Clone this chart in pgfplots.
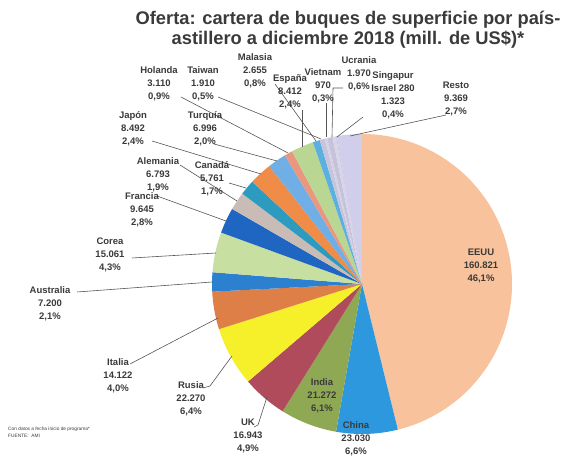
\documentclass[border=0pt]{standalone}
\usepackage{pgfplots}
\pgfplotsset{compat=1.18}
\usepackage{pgfplotstable}
\usepackage{fontspec}
\setmainfont{Liberation Sans}

\definecolor{cEEUU}{HTML}{F8C29C}
\definecolor{cChina}{HTML}{2E98DE}
\definecolor{cIndia}{HTML}{8FA853}
\definecolor{cUK}{HTML}{B04B5C}
\definecolor{cRusia}{HTML}{F6F02A}
\definecolor{cItalia}{HTML}{DF7F48}
\definecolor{cAustralia}{HTML}{2C80D0}
\definecolor{cCorea}{HTML}{C8DFA2}
\definecolor{cFrancia}{HTML}{1F66C2}
\definecolor{cAlemania}{HTML}{C9BCB6}
\definecolor{cCanada}{HTML}{2C9BBF}
\definecolor{cJapon}{HTML}{EE8C48}
\definecolor{cTurquia}{HTML}{70AEE6}
\definecolor{cHolanda}{HTML}{E9977F}
\definecolor{cEspana}{HTML}{BAD693}
\definecolor{cMalasia}{HTML}{5CB0E0}
\definecolor{cTaiwan}{HTML}{C8C4DC}
\definecolor{cVietnam}{HTML}{D6D2E6}
\definecolor{cUcrania}{HTML}{C6C2DA}
\definecolor{cSingapur}{HTML}{D8D5E8}
\definecolor{cIsrael}{HTML}{C4C0D8}
\definecolor{cResto}{HTML}{D1CEEC}
\definecolor{labtext}{HTML}{3A3A3A}
\definecolor{leader}{HTML}{555555}

% cartera por pais, mill. US$ (orden de los sectores, en sentido horario desde arriba)
\pgfplotstableread{
pais      valor    color
EEUU      160.821  cEEUU
China     23.030   cChina
India     21.272   cIndia
UK        16.943   cUK
Rusia     22.270   cRusia
Italia    14.122   cItalia
Australia 7.200    cAustralia
Corea     15.061   cCorea
Francia   9.645    cFrancia
Alemania  6.793    cAlemania
Canada    5.761    cCanada
Japon     8.492    cJapon
Turquia   6.996    cTurquia
Holanda   3.110    cHolanda
Espana    8.412    cEspana
Malasia   2.655    cMalasia
Taiwan    1.910    cTaiwan
Vietnam   0.970    cVietnam
Ucrania   1.970    cUcrania
Singapur  1.323    cSingapur
Israel    0.280    cIsrael
Resto     9.369    cResto
}\piedata

\tikzset{
  lbl/.style={font=\fontsize{9.5}{13}\selectfont\bfseries, align=center, text=labtext, inner sep=0pt},
  ld/.style={draw=leader, line width=0.6pt},
}

\begin{document}
\begin{tikzpicture}
\pgfplotstablegetrowsof{\piedata}
\pgfmathtruncatemacro\nlast{\pgfplotsretval-1}
\def\total{0}
\pgfplotsforeachungrouped \i in {0,...,\nlast}{%
  \pgfplotstablegetelem{\i}{valor}\of\piedata
  \pgfmathsetmacro\total{\total+\pgfplotsretval}}
\begin{axis}[
  hide axis, scale only axis, clip=false,
  x=1pt, y=1pt, y dir=reverse,
  xmin=0, xmax=566, ymin=0, ymax=455,
]
\path (axis cs:0,0) (axis cs:566,455);
% sectores
\def\angA{90}
\pgfplotsforeachungrouped \i in {0,...,\nlast}{%
  \pgfplotstablegetelem{\i}{valor}\of\piedata \let\val\pgfplotsretval
  \pgfplotstablegetelem{\i}{color}\of\piedata \let\col\pgfplotsretval
  \pgfmathsetmacro\angB{\angA-360*(\val/\total)}%
  \edef\slice{\noexpand\fill[\col] (axis cs:362,284) -- (axis cs:{362+150*cos(\angA)},{284-150*sin(\angA)}) arc[start angle=\angA, end angle=\angB, radius=150pt] -- cycle;}%
  \slice
  \let\angA\angB
}

% lineas guia
\draw[ld] (181,97) -- (288,153);
\draw[ld] (218,97) -- (321,139);
\draw[ld] (275,84) -- (316,141);
\draw[ld] (302,110) -- (302,147);
\draw[ld] (326,103) -- (326,137);
\draw[ld] (343,88) -- (333,88) -- (332,137);
\draw[ld] (363,117) -- (337,137);
\draw[ld] (446,115) -- (350,136);
\draw[ld] (152,141) -- (261,174);
\draw[ld] (214,144) -- (277,161);
\draw[ld] (180,165) -- (237,201);
\draw[ld] (229,183) -- (246,188);
\draw[ld] (157,196) -- (226,221);
\draw[ld] (132,258) -- (216,253);
\draw[ld] (77,292) -- (212,282);
\draw[ld] (130,364) -- (218,318);
\draw[ld] (203,388) -- (210,386) -- (232,356);
\draw[ld] (254,427) -- (258,425) -- (267,397);

% etiquetas
\node[lbl] at (axis cs:481,266) {EEUU\\160.821\\46,1\%};
\node[lbl] at (axis cs:356,439) {China\\23.030\\6,6\%};
\node[lbl] at (axis cs:322,396) {India\\21.272\\6,1\%};
\node[lbl] at (axis cs:248,436) {UK\\16.943\\4,9\%};
\node[lbl] at (axis cs:191,399) {Rusia\\22.270\\6,4\%};
\node[lbl] at (axis cs:118,376) {Italia\\14.122\\4,0\%};
\node[lbl] at (axis cs:50,304) {Australia\\7.200\\2,1\%};
\node[lbl] at (axis cs:110,255) {Corea\\15.061\\4,3\%};
\node[lbl] at (axis cs:142,210) {Francia\\9.645\\2,8\%};
\node[lbl] at (axis cs:158,175) {Alemania\\6.793\\1,9\%};
\node[lbl] at (axis cs:212,179) {Canadá\\5.761\\1,7\%};
\node[lbl] at (axis cs:133,129) {Japón\\8.492\\2,4\%};
\node[lbl] at (axis cs:205,129) {Turquía\\6.996\\2,0\%};
\node[lbl] at (axis cs:159,84) {Holanda\\3.110\\0,9\%};
\node[lbl] at (axis cs:203,84) {Taiwan\\1.910\\0,5\%};
\node[lbl] at (axis cs:255,71) {Malasia\\2.655\\0,8\%};
\node[lbl] at (axis cs:290,92) {España\\8.412\\2,4\%};
\node[lbl] at (axis cs:323,86) {Vietnam\\970\\0,3\%};
\node[lbl] at (axis cs:359,74) {Ucrania\\1.970\\0,6\%};
\node[lbl] at (axis cs:393,95) {Singapur\\Israel 280\\1.323\\0,4\%};
\node[lbl] at (axis cs:456,99) {Resto\\9.369\\2,7\%};

% titulo y fuente
\node[font=\fontsize{18.3}{20}\selectfont\bfseries, align=center, text=labtext] at (axis cs:348,30)
  {Oferta: cartera de buques de superficie por país-\\astillero a diciembre 2018 (mill. de US\$)*};
\node[font=\fontsize{4.8}{7}\selectfont, anchor=north west, align=left, inner sep=0pt, text=labtext] at (axis cs:8,427)
  {Con datos a fecha inicio de programa*\\FUENTE:\ \ AMI};
\end{axis}
\end{tikzpicture}
\end{document}
